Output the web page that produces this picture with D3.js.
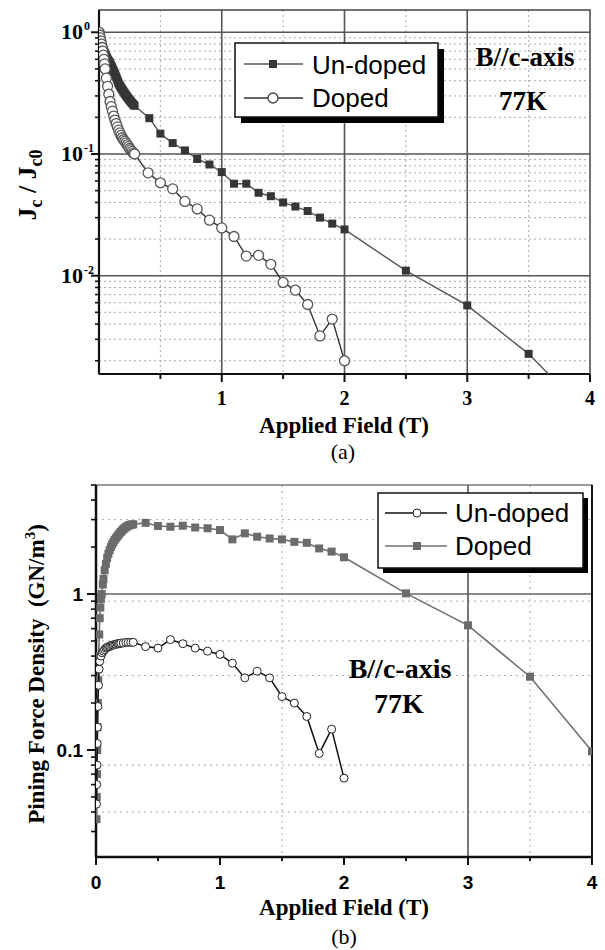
<!DOCTYPE html>
<html lang="en">
<head>
  <meta charset="UTF-8">
  <title>Jc and pinning force vs applied field</title>
  <style>
    body { margin: 0; background: #fff; }
    svg { display: block; }
    .serif { font-family: "Liberation Serif", "Times New Roman", serif; }
    .sans { font-family: "Liberation Sans", Arial, sans-serif; }
  </style>
  <script src="https://d3js.org/d3.v7.min.js"></script>
</head>
<body>
  <svg id="chart"></svg>
  <script>
    // ---- panel (a): Jc/Jc0 vs field ----
    const fieldA_undoped = [0.002, 0.005, 0.01, 0.015, 0.02, 0.025, 0.03, 0.035, 0.04, 0.045, 0.05, 0.055,
      0.06, 0.065, 0.07, 0.075, 0.08, 0.085, 0.09, 0.095,
      0.10, 0.105, 0.11, 0.115, 0.12, 0.125, 0.13, 0.135, 0.14, 0.145, 0.15, 0.155, 0.16, 0.165, 0.17, 0.175,
      0.18, 0.185, 0.19, 0.195, 0.20, 0.205, 0.21, 0.215, 0.22, 0.225, 0.23, 0.235, 0.24, 0.245, 0.25, 0.255,
      0.26, 0.265, 0.27, 0.275, 0.28, 0.285, 0.29, 0.41, 0.50, 0.60, 0.70, 0.80, 0.90, 1.0, 1.1, 1.2, 1.3, 1.4, 1.5, 1.6,
      1.7, 1.8, 1.9, 2.0, 2.5, 3.0, 3.5, 4.0];
    const jcA_undoped = [1.0, 0.95, 0.90, 0.86, 0.82, 0.79, 0.76, 0.735, 0.71, 0.69, 0.67, 0.65,
      0.63, 0.615, 0.60, 0.59, 0.58, 0.57, 0.557, 0.543,
      0.53, 0.517, 0.505, 0.492, 0.48, 0.467, 0.455, 0.442, 0.43, 0.417, 0.405, 0.392, 0.38, 0.372, 0.365, 0.357,
      0.35, 0.344, 0.338, 0.332, 0.326, 0.32, 0.315, 0.31, 0.304, 0.299, 0.294, 0.29, 0.285, 0.281, 0.277, 0.273,
      0.269, 0.265, 0.262, 0.258, 0.255, 0.252, 0.249, 0.197, 0.147, 0.123, 0.107, 0.091, 0.082, 0.071, 0.057, 0.057, 0.048, 0.045, 0.040, 0.037,
      0.034, 0.030, 0.0268, 0.024, 0.011, 0.0057, 0.00228, 0.0007];
    const fieldA_doped = [0.002, 0.005, 0.01, 0.015, 0.02, 0.025, 0.03, 0.035, 0.04, 0.045, 0.05, 0.06, 0.07, 0.08, 0.09, 0.10, 0.11, 0.12,
      0.13, 0.14, 0.15, 0.16, 0.17, 0.18, 0.19, 0.20, 0.21, 0.22, 0.23, 0.24, 0.25, 0.26, 0.27, 0.28, 0.29,
      0.40, 0.50, 0.60, 0.70, 0.80, 0.90, 1.0, 1.1, 1.2, 1.3, 1.4, 1.5, 1.6, 1.7, 1.8, 1.9, 2.0];
    const jcA_doped = [1.0, 0.95, 0.90, 0.85, 0.80, 0.75, 0.70, 0.65, 0.60, 0.55, 0.50, 0.42, 0.36, 0.31, 0.27, 0.245, 0.225, 0.205,
      0.19, 0.178, 0.167, 0.157, 0.149, 0.142, 0.136, 0.131, 0.127, 0.123, 0.119, 0.115, 0.111, 0.108, 0.105, 0.102, 0.10,
      0.070, 0.058, 0.0517, 0.0408, 0.0354, 0.0286, 0.0247, 0.021, 0.0145, 0.0147, 0.0124, 0.0088, 0.0076, 0.0058, 0.0032, 0.0044, 0.0020];

    // ---- panel (b): pinning force density vs field ----
    const fieldB_doped = [0.004, 0.006, 0.008, 0.01, 0.012, 0.015, 0.018, 0.022, 0.026, 0.03, 0.035, 0.04, 0.046,
      0.055, 0.06, 0.07, 0.08, 0.09, 0.10, 0.11, 0.12, 0.13, 0.14, 0.15, 0.16, 0.17, 0.18, 0.19, 0.20, 0.21,
      0.22, 0.23, 0.24, 0.25, 0.26, 0.27, 0.28, 0.29, 0.30, 0.40, 0.50, 0.60, 0.70, 0.80, 0.90, 1.0, 1.1,
      1.2, 1.3, 1.4, 1.5, 1.6, 1.7, 1.8, 1.9, 2.0, 2.5, 3.0, 3.5, 4.0];
    const fpB_doped = [0.036, 0.05, 0.07, 0.10, 0.14, 0.20, 0.28, 0.40, 0.55, 0.70, 0.82, 0.93, 1.0,
      1.15, 1.25, 1.42, 1.56, 1.70, 1.81, 1.91, 2.0, 2.08, 2.15, 2.22, 2.28, 2.33, 2.39, 2.45, 2.50, 2.55,
      2.60, 2.64, 2.68, 2.71, 2.74, 2.76, 2.78, 2.79, 2.80, 2.86, 2.73, 2.70, 2.74, 2.67, 2.64, 2.57, 2.24,
      2.45, 2.33, 2.27, 2.24, 2.16, 2.13, 1.96, 1.87, 1.72, 1.01, 0.63, 0.295, 0.098];
    const fieldB_undoped = [0.004, 0.006, 0.008, 0.01, 0.012, 0.015, 0.02, 0.025, 0.03, 0.04, 0.05, 0.06,
      0.07, 0.08, 0.09, 0.10, 0.11, 0.12, 0.13, 0.14, 0.15, 0.16, 0.17, 0.18, 0.19, 0.20, 0.22, 0.24, 0.26,
      0.28, 0.30, 0.40, 0.50, 0.60, 0.70, 0.80, 0.90, 1.0, 1.1, 1.2, 1.3, 1.4, 1.5, 1.6, 1.7, 1.8, 1.9, 2.0];
    const fpB_undoped = [0.045, 0.06, 0.08, 0.11, 0.14, 0.19, 0.26, 0.33, 0.37, 0.40, 0.42, 0.43,
      0.44, 0.45, 0.455, 0.46, 0.46, 0.465, 0.47, 0.47, 0.475, 0.475, 0.48, 0.48, 0.48, 0.485, 0.485, 0.49, 0.49,
      0.49, 0.49, 0.46, 0.45, 0.51, 0.48, 0.45, 0.43, 0.41, 0.36, 0.29, 0.32, 0.29, 0.22, 0.20, 0.164, 0.095, 0.136, 0.066];

    // ticks / grid
    const xTicksA = [1, 2, 3, 4];
    const xMinorA = [0.5, 1.5, 2.5, 3.5];
    const yTicksA = [1, 0.1, 0.01];
    const yExpA = ["0", "-1", "-2"];
    const xTicksB = [0, 1, 2, 3, 4];
    const xMinorB = [0.5, 1.5, 2.5, 3.5];
    const yTicksB = [1, 0.1];
    const yLabelsB = ["1", "0.1"];
    const hGridDotB = [3, 0.9, 0.5, 0.3, 0.08, 0.04];
    const vGridDotB = [1.5, 3.5];

    const svg = d3.select("#chart").attr("width", 605).attr("height", 950);

    // log minor tick values 2..9 per decade inside a domain
    function logMinors(lo, hi) {
      const out = [];
      for (let e = Math.floor(Math.log10(lo)); e <= Math.ceil(Math.log10(hi)); e++) {
        for (let m = 2; m <= 9; m++) {
          const v = m * Math.pow(10, e);
          if (v >= lo && v <= hi) out.push(v);
        }
      }
      return out;
    }

    // ================= panel (a) =================
    {
      const left = 99, top = 10, w = 491, h = 364;
      const g = svg.append("g").attr("transform", `translate(${left},${top})`);
      const x = d3.scaleLinear().domain([0, 4]).range([0, w]);
      const y = d3.scaleLog().domain([0.001557, 1.525]).range([h, 0]);
      const minors = logMinors(0.001557, 1.525);

      g.append("defs").append("clipPath").attr("id", "clipA")
        .append("rect").attr("width", w).attr("height", h);

      // dotted grid
      g.selectAll(".hmin").data(minors).enter().append("line")
        .attr("x1", 0).attr("x2", w).attr("y1", d => y(d)).attr("y2", d => y(d))
        .attr("stroke", "#aaa").attr("stroke-width", 1).attr("stroke-dasharray", "2,3");
      g.selectAll(".vmin").data(xMinorA).enter().append("line")
        .attr("y1", 0).attr("y2", h).attr("x1", d => x(d)).attr("x2", d => x(d))
        .attr("stroke", "#aaa").attr("stroke-width", 1).attr("stroke-dasharray", "2,3");
      // solid grid
      g.selectAll(".hmaj").data(yTicksA).enter().append("line")
        .attr("x1", 0).attr("x2", w).attr("y1", d => y(d)).attr("y2", d => y(d))
        .attr("stroke", "#555").attr("stroke-width", 1.6);
      g.selectAll(".vmaj").data([1, 2, 3]).enter().append("line")
        .attr("y1", 0).attr("y2", h).attr("x1", d => x(d)).attr("x2", d => x(d))
        .attr("stroke", "#555").attr("stroke-width", 1.6);

      // frame
      g.append("rect").attr("width", w).attr("height", h)
        .attr("fill", "none").attr("stroke", "#444").attr("stroke-width", 1.5);
      g.append("line").attr("x1", 0).attr("x2", 0).attr("y1", 0).attr("y2", h)
        .attr("stroke", "#111").attr("stroke-width", 2.2);
      g.append("line").attr("x1", 0).attr("x2", w).attr("y1", h).attr("y2", h)
        .attr("stroke", "#111").attr("stroke-width", 2.2);

      // ticks
      g.selectAll(".xt").data(xTicksA).enter().append("line")
        .attr("x1", d => x(d)).attr("x2", d => x(d)).attr("y1", h).attr("y2", h + 8)
        .attr("stroke", "#111").attr("stroke-width", 2);
      g.selectAll(".xm").data(xMinorA).enter().append("line")
        .attr("x1", d => x(d)).attr("x2", d => x(d)).attr("y1", h).attr("y2", h + 5)
        .attr("stroke", "#111").attr("stroke-width", 2);
      g.selectAll(".yt").data(yTicksA).enter().append("line")
        .attr("x1", -8).attr("x2", 0).attr("y1", d => y(d)).attr("y2", d => y(d))
        .attr("stroke", "#111").attr("stroke-width", 2);
      g.selectAll(".ym").data(minors).enter().append("line")
        .attr("x1", -4).attr("x2", 0).attr("y1", d => y(d)).attr("y2", d => y(d))
        .attr("stroke", "#111").attr("stroke-width", 1.6);

      // tick labels
      g.selectAll(".xl").data(xTicksA).enter().append("text")
        .attr("class", "serif").attr("x", d => x(d)).attr("y", h + 31)
        .attr("text-anchor", "middle").attr("font-size", 20).attr("font-weight", "bold")
        .text(d => d);
      g.selectAll(".yl").data(yTicksA).enter().append("text")
        .attr("class", "serif").attr("x", -16).attr("y", d => y(d) + 7)
        .attr("text-anchor", "end").attr("font-size", 22).attr("font-weight", "bold")
        .text("10");
      g.selectAll(".ye").data(yTicksA).enter().append("text")
        .attr("class", "serif").attr("x", -15).attr("y", d => y(d) - 2)
        .attr("font-size", 12).attr("font-weight", "bold")
        .text((d, i) => yExpA[i]);

      // series
      const line = d3.line().x(d => x(d[0])).y(d => y(d[1]));
      const und = fieldA_undoped.map((f, i) => [f, jcA_undoped[i]]);
      const dop = fieldA_doped.map((f, i) => [f, jcA_doped[i]]);
      const s = g.append("g").attr("clip-path", "url(#clipA)");
      s.append("path").datum(und).attr("d", line)
        .attr("fill", "none").attr("stroke", "#555").attr("stroke-width", 1.4);
      s.selectAll(".sq").data(und).enter().append("rect")
        .attr("x", d => x(d[0]) - 4).attr("y", d => y(d[1]) - 4)
        .attr("width", 8).attr("height", 8).attr("fill", "#363636");
      s.append("path").datum(dop).attr("d", line)
        .attr("fill", "none").attr("stroke", "#333").attr("stroke-width", 1.4);
      s.selectAll(".ci").data(dop).enter().append("circle")
        .attr("cx", d => x(d[0])).attr("cy", d => y(d[1])).attr("r", 5)
        .attr("fill", "#fff").attr("stroke", "#555").attr("stroke-width", 1.3);

      // legend
      const lg = g.append("g").attr("transform", `translate(${235 - left},${43 - top})`);
      lg.append("rect").attr("x", 6).attr("y", 6).attr("width", 203).attr("height", 74).attr("fill", "#000");
      lg.append("rect").attr("width", 203).attr("height", 74)
        .attr("fill", "#fff").attr("stroke", "#111").attr("stroke-width", 1.5);
      lg.append("line").attr("x1", 9).attr("x2", 68).attr("y1", 21).attr("y2", 21)
        .attr("stroke", "#555").attr("stroke-width", 1.4);
      lg.append("rect").attr("x", 34).attr("y", 17).attr("width", 8).attr("height", 8).attr("fill", "#363636");
      lg.append("line").attr("x1", 9).attr("x2", 68).attr("y1", 55).attr("y2", 55)
        .attr("stroke", "#333").attr("stroke-width", 1.4);
      lg.append("circle").attr("cx", 38).attr("cy", 55).attr("r", 5)
        .attr("fill", "#fff").attr("stroke", "#444").attr("stroke-width", 1.3);
      lg.append("text").attr("class", "sans").attr("x", 77).attr("y", 31)
        .attr("font-size", 26).text("Un-doped");
      lg.append("text").attr("class", "sans").attr("x", 77).attr("y", 64)
        .attr("font-size", 26).text("Doped");

      g.append("text").attr("class", "serif").attr("x", 525 - left).attr("y", 66 - top)
        .attr("text-anchor", "middle").attr("font-size", 27).attr("font-weight", "bold").text("B//c-axis");
      g.append("text").attr("class", "serif").attr("x", 523 - left).attr("y", 110 - top)
        .attr("text-anchor", "middle").attr("font-size", 27).attr("font-weight", "bold").text("77K");

      // axis titles
      g.append("text").attr("class", "serif").attr("x", 344 - left).attr("y", 433 - top)
        .attr("text-anchor", "middle").attr("font-size", 23).attr("font-weight", "bold")
        .text("Applied Field (T)");
      g.append("text").attr("class", "serif").attr("x", 343 - left).attr("y", 459 - top)
        .attr("text-anchor", "middle").attr("font-size", 22).text("(a)");

      const yt = g.append("text").attr("class", "serif")
        .attr("transform", `translate(${36 - left},${185 - top}) rotate(-90)`)
        .attr("text-anchor", "middle").attr("font-size", 26).attr("font-weight", "bold");
      yt.append("tspan").text("J");
      yt.append("tspan").attr("font-size", 18).attr("dy", 6).text("c");
      yt.append("tspan").attr("dy", -6).text(" / J");
      yt.append("tspan").attr("font-size", 18).attr("dy", 6).text("c0");
    }

    // ================= panel (b) =================
    {
      const left = 96, top = 485, w = 496, h = 372;
      const g = svg.append("g").attr("transform", `translate(${left},${top})`);
      const x = d3.scaleLinear().domain([0, 4]).range([0, w]);
      const y = d3.scaleLog().domain([0.0206, 5.0]).range([h, 0]);
      const minors = logMinors(0.0206, 5.0);

      g.append("defs").append("clipPath").attr("id", "clipB")
        .append("rect").attr("width", w).attr("height", h);

      g.selectAll(".hmin").data(hGridDotB).enter().append("line")
        .attr("x1", 0).attr("x2", w).attr("y1", d => y(d)).attr("y2", d => y(d))
        .attr("stroke", "#aaa").attr("stroke-width", 1).attr("stroke-dasharray", "2,4");
      g.selectAll(".vmin").data(vGridDotB).enter().append("line")
        .attr("y1", 0).attr("y2", h).attr("x1", d => x(d)).attr("x2", d => x(d))
        .attr("stroke", "#aaa").attr("stroke-width", 1).attr("stroke-dasharray", "2,4");
      g.append("line").attr("x1", 0).attr("x2", w).attr("y1", y(1)).attr("y2", y(1))
        .attr("stroke", "#666").attr("stroke-width", 1.4);
      g.append("line").attr("x1", x(3)).attr("x2", x(3)).attr("y1", 0).attr("y2", h)
        .attr("stroke", "#555").attr("stroke-width", 1.6);

      g.append("rect").attr("width", w).attr("height", h)
        .attr("fill", "none").attr("stroke", "#666").attr("stroke-width", 1.3);
      g.append("line").attr("x1", w).attr("x2", w).attr("y1", 0).attr("y2", h)
        .attr("stroke", "#111").attr("stroke-width", 2);
      g.append("line").attr("x1", 0).attr("x2", 0).attr("y1", 0).attr("y2", h)
        .attr("stroke", "#111").attr("stroke-width", 2.5);
      g.append("line").attr("x1", 0).attr("x2", w).attr("y1", h).attr("y2", h)
        .attr("stroke", "#111").attr("stroke-width", 2.5);

      g.selectAll(".xt").data(xTicksB).enter().append("line")
        .attr("x1", d => x(d)).attr("x2", d => x(d)).attr("y1", h).attr("y2", h + 8)
        .attr("stroke", "#111").attr("stroke-width", 2);
      g.selectAll(".xm").data(xMinorB).enter().append("line")
        .attr("x1", d => x(d)).attr("x2", d => x(d)).attr("y1", h).attr("y2", h + 4)
        .attr("stroke", "#111").attr("stroke-width", 2);
      g.selectAll(".yt").data(yTicksB).enter().append("line")
        .attr("x1", -9).attr("x2", 0).attr("y1", d => y(d)).attr("y2", d => y(d))
        .attr("stroke", "#111").attr("stroke-width", 2);
      g.selectAll(".ym").data(minors).enter().append("line")
        .attr("x1", -5).attr("x2", 0).attr("y1", d => y(d)).attr("y2", d => y(d))
        .attr("stroke", "#111").attr("stroke-width", 1.6);

      g.selectAll(".xl").data(xTicksB).enter().append("text")
        .attr("class", "sans").attr("x", d => x(d)).attr("y", h + 32)
        .attr("text-anchor", "middle").attr("font-size", 19).attr("font-weight", "bold")
        .text(d => d);
      g.selectAll(".yl").data(yTicksB).enter().append("text")
        .attr("class", "sans").attr("x", -13).attr("y", d => y(d) + 7)
        .attr("text-anchor", "end").attr("font-size", 19).attr("font-weight", "bold")
        .text((d, i) => yLabelsB[i]);

      const line = d3.line().x(d => x(d[0])).y(d => y(d[1]));
      const dop = fieldB_doped.map((f, i) => [f, fpB_doped[i]]);
      const und = fieldB_undoped.map((f, i) => [f, fpB_undoped[i]]);
      const s = g.append("g").attr("clip-path", "url(#clipB)");
      s.append("path").datum(dop).attr("d", line)
        .attr("fill", "none").attr("stroke", "#707070").attr("stroke-width", 1.6);
      s.selectAll(".sq").data(dop).enter().append("rect")
        .attr("x", d => x(d[0]) - 4).attr("y", d => y(d[1]) - 4)
        .attr("width", 8).attr("height", 8).attr("fill", "#6b6b6b");
      s.append("path").datum(und).attr("d", line)
        .attr("fill", "none").attr("stroke", "#111").attr("stroke-width", 1.5);
      s.selectAll(".ci").data(und).enter().append("circle")
        .attr("cx", d => x(d[0])).attr("cy", d => y(d[1])).attr("r", 4)
        .attr("fill", "#fff").attr("stroke", "#222").attr("stroke-width", 1);

      const lg = g.append("g").attr("transform", `translate(${378 - left},${493 - top})`);
      lg.append("rect").attr("x", 5).attr("y", 5).attr("width", 205).attr("height", 75).attr("fill", "#000");
      lg.append("rect").attr("width", 205).attr("height", 75)
        .attr("fill", "#fff").attr("stroke", "#111").attr("stroke-width", 1.5);
      lg.append("line").attr("x1", 7).attr("x2", 69).attr("y1", 20).attr("y2", 20)
        .attr("stroke", "#111").attr("stroke-width", 1.5);
      lg.append("circle").attr("cx", 39).attr("cy", 20).attr("r", 4)
        .attr("fill", "#fff").attr("stroke", "#222").attr("stroke-width", 1);
      lg.append("line").attr("x1", 7).attr("x2", 69).attr("y1", 53).attr("y2", 53)
        .attr("stroke", "#707070").attr("stroke-width", 1.6);
      lg.append("rect").attr("x", 35).attr("y", 49).attr("width", 8).attr("height", 8).attr("fill", "#6b6b6b");
      lg.append("text").attr("class", "sans").attr("x", 77).attr("y", 29)
        .attr("font-size", 26).text("Un-doped");
      lg.append("text").attr("class", "sans").attr("x", 77).attr("y", 62)
        .attr("font-size", 26).text("Doped");

      g.append("text").attr("class", "serif").attr("x", 400 - left).attr("y", 678 - top)
        .attr("text-anchor", "middle").attr("font-size", 28).attr("font-weight", "bold").text("B//c-axis");
      g.append("text").attr("class", "serif").attr("x", 399 - left).attr("y", 713 - top)
        .attr("text-anchor", "middle").attr("font-size", 28).attr("font-weight", "bold").text("77K");

      g.append("text").attr("class", "serif").attr("x", 344 - left).attr("y", 915 - top)
        .attr("text-anchor", "middle").attr("font-size", 23).attr("font-weight", "bold")
        .text("Applied Field (T)");
      g.append("text").attr("class", "serif").attr("x", 344 - left).attr("y", 944 - top)
        .attr("text-anchor", "middle").attr("font-size", 22).text("(b)");

      const yt = g.append("text").attr("class", "serif")
        .attr("transform", `translate(${44 - left},${674 - top}) rotate(-90)`)
        .attr("text-anchor", "middle").attr("font-size", 23).attr("font-weight", "bold");
      yt.append("tspan").text("Pining Force Density\u2002(GN/m");
      yt.append("tspan").attr("font-size", 15).attr("dy", -9).text("3");
      yt.append("tspan").attr("dy", 9).text(")");
    }
  </script>
</body>
</html>
